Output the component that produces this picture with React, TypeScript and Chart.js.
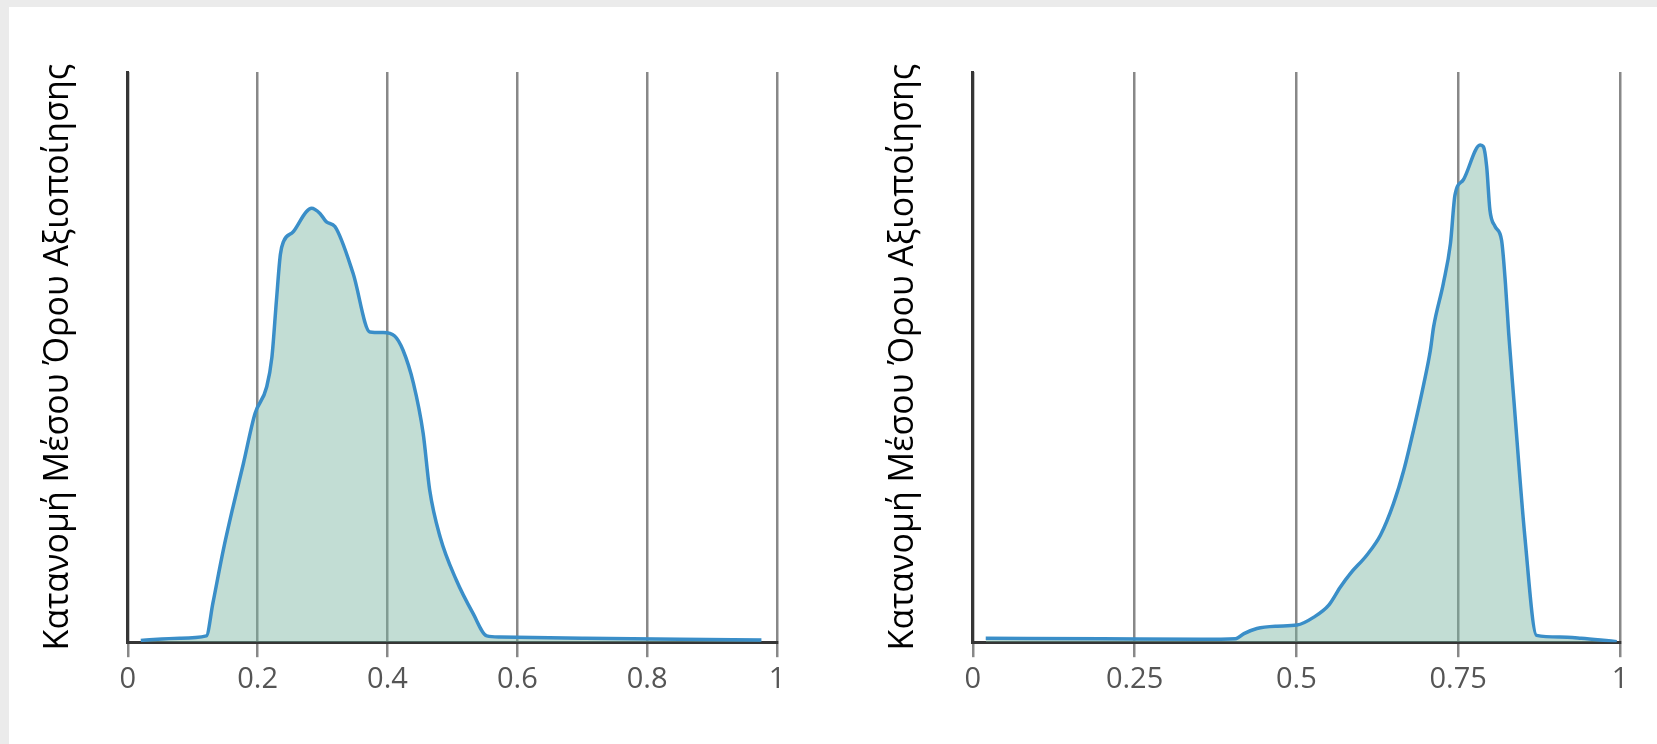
import React, { useEffect, useRef } from "react";
import { Chart, registerables } from "chart.js";

Chart.register(...registerables);

// ---- Data ----
const axisTitle = "Κατανομή Μέσου Όρου Αξιοποίησης";

const leftX = [0.02, 0.08, 0.121, 0.131, 0.147, 0.162, 0.178, 0.196, 0.214, 0.222, 0.229, 0.235, 0.24, 0.255, 0.275, 0.283, 0.296, 0.306, 0.319, 0.347, 0.373, 0.393, 0.411, 0.424, 0.44, 0.455, 0.465, 0.481, 0.506, 0.532, 0.553, 0.573, 0.7, 0.85, 0.976];
const leftY = [0.003, 0.007, 0.011, 0.068, 0.161, 0.237, 0.313, 0.401, 0.448, 0.5, 0.6, 0.68, 0.703, 0.72, 0.755, 0.761, 0.752, 0.737, 0.729, 0.647, 0.544, 0.543, 0.537, 0.512, 0.454, 0.366, 0.267, 0.185, 0.109, 0.05, 0.011, 0.009, 0.007, 0.005, 0.004];
const leftTickValues = [0, 0.2, 0.4, 0.6, 0.8, 1];
const leftTickLabels = ["0", "0.2", "0.4", "0.6", "0.8", "1"];

const rightX = [0.02, 0.2, 0.352, 0.406, 0.419, 0.439, 0.47, 0.501, 0.527, 0.55, 0.568, 0.583, 0.609, 0.63, 0.65, 0.666, 0.681, 0.697, 0.707, 0.712, 0.727, 0.738, 0.745, 0.758, 0.784, 0.789, 0.794, 0.799, 0.807, 0.817, 0.823, 0.828, 0.836, 0.853, 0.871, 0.907, 0.94, 0.97, 0.995];
const rightY = [0.007, 0.006, 0.005, 0.006, 0.015, 0.024, 0.028, 0.03, 0.044, 0.065, 0.097, 0.12, 0.153, 0.188, 0.243, 0.302, 0.372, 0.454, 0.512, 0.553, 0.629, 0.699, 0.784, 0.811, 0.872, 0.869, 0.834, 0.758, 0.729, 0.705, 0.629, 0.542, 0.425, 0.185, 0.012, 0.009, 0.007, 0.004, 0.001];
const rightTickValues = [0, 0.25, 0.5, 0.75, 1];
const rightTickLabels = ["0", "0.25", "0.5", "0.75", "1"];

const LINE = "#3a8ec8";
const FILL = "rgba(119,179,159,0.45)";
const GRID = "#888888";
const AXIS = "#363636";

function makeConfig(xs: number[], ys: number[], tickValues: number[], tickLabels: string[], padding: any) {
  return {
    type: "line" as const,
    data: {
      datasets: [
        {
          data: xs.map((x, i) => ({ x, y: ys[i] })),
          borderColor: LINE,
          borderWidth: 3.5,
          backgroundColor: FILL,
          fill: "origin",
          pointRadius: 0,
          cubicInterpolationMode: "monotone" as const,
        },
      ],
    },
    options: {
      animation: false,
      responsive: false,
      maintainAspectRatio: false,
      layout: { padding },
      plugins: { legend: { display: false }, tooltip: { enabled: false } },
      scales: {
        x: {
          type: "linear" as const,
          min: 0,
          max: 1,
          afterBuildTicks: (scale: any) => {
            scale.ticks = tickValues.map((v) => ({ value: v }));
          },
          ticks: {
            autoSkip: false,
            maxRotation: 0,
            padding: 5,
            color: "#555555",
            font: { family: "'Open Sans', sans-serif", size: 29 },
            callback: (_v: any, i: number) => tickLabels[i],
          },
          grid: { color: GRID, lineWidth: 2.5, tickLength: 15, drawOnChartArea: true },
          border: { color: AXIS, width: 3 },
        },
        y: {
          min: 0,
          max: 1,
          ticks: { display: false },
          grid: { display: false, drawTicks: false },
          border: { color: AXIS, width: 3 },
          title: {
            display: true,
            text: axisTitle,
            color: "#000000",
            font: { family: "'Open Sans', sans-serif", size: 34 },
            padding: { top: 4, bottom: 49 },
          },
        },
      },
    },
  };
}

function DensityChart(props: { xs: number[]; ys: number[]; tv: number[]; tl: string[]; w: number; h: number; left: number; padding: any }) {
  const ref = useRef<HTMLCanvasElement | null>(null);
  useEffect(() => {
    if (!ref.current) return;
    const chart = new Chart(ref.current, makeConfig(props.xs, props.ys, props.tv, props.tl, props.padding) as any);
    return () => chart.destroy();
  }, []);
  return (
    <canvas
      ref={ref}
      width={props.w}
      height={props.h}
      style={{ position: "absolute", left: props.left, top: 0, width: props.w, height: props.h }}
    />
  );
}

export default function App() {
  return (
    <div style={{ position: "absolute", left: 0, top: 0, width: 1657, height: 744, background: "#ebebeb", overflow: "hidden" }}>
      <div style={{ position: "absolute", left: 9, top: 7, width: 1648, height: 737, background: "#ffffff" }} />
      <DensityChart xs={leftX} ys={leftY} tv={leftTickValues} tl={leftTickLabels} w={820} h={744} left={0} padding={{ left: 34, right: 43, top: 72, bottom: 42 }} />
      <DensityChart xs={rightX} ys={rightY} tv={rightTickValues} tl={rightTickLabels} w={817} h={744} left={840} padding={{ left: 39, right: 37, top: 72, bottom: 42 }} />
    </div>
  );
}
